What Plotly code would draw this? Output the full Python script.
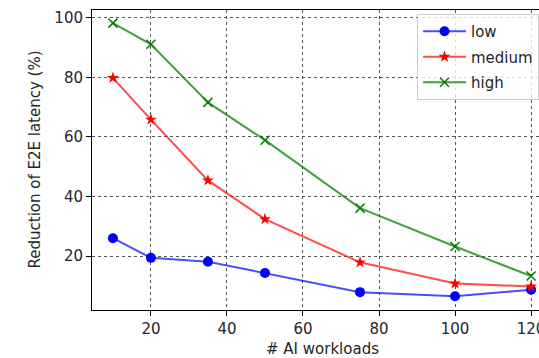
import plotly.graph_objects as go

workloads = [10, 20, 35, 50, 75, 100, 120]
low = [26.0, 19.4, 18.1, 14.3, 7.9, 6.5, 8.7]
medium = [79.8, 65.8, 45.4, 32.4, 17.9, 10.8, 9.8]
high = [98.2, 91.1, 71.6, 58.9, 36.1, 23.2, 13.3]
x_ticks = [20, 40, 60, 80, 100, 120]
y_ticks = [20, 40, 60, 80, 100]

FONT = "DejaVu Sans"
W, H = 560, 358
ML, MT, MB, MR = 92, 10, 48, 8
PW, PH = W - ML - MR, H - MT - MB

fig = go.Figure()
fig.add_trace(go.Scatter(
    x=workloads, y=low, name="low", mode="lines+markers", legendgroup="a",
    line=dict(color="rgba(0,0,255,0.7)", width=2),
    marker=dict(symbol="circle", size=10, color="#0000ff"),
))
fig.add_trace(go.Scatter(
    x=workloads, y=medium, name="medium", mode="lines+markers", legendgroup="b",
    line=dict(color="rgba(255,0,0,0.7)", width=2),
    marker=dict(symbol="star", size=9, color="#ff0000"),
))
fig.add_trace(go.Scatter(
    x=workloads, y=high, name="high", mode="lines+markers", legendgroup="c",
    line=dict(color="rgba(0,128,0,0.75)", width=2),
    marker=dict(symbol="x-thin", size=9, color="#008000",
                line=dict(color="#008000", width=1.5)),
))

axis_common = dict(
    showline=True, linecolor="black", linewidth=1, mirror=True,
    ticks="outside", ticklen=5, tickcolor="black", tickwidth=1,
    showgrid=True, gridcolor="#555555", gridwidth=1, griddash="dot",
    zeroline=False, automargin=False,
    tickfont=dict(family=FONT, size=15, color="#262626"),
)

fig.update_xaxes(range=[4.5, 125.5], tickvals=x_ticks, **axis_common)
fig.update_yaxes(range=[1.9, 102.6], tickvals=y_ticks, **axis_common)

fig.update_layout(
    width=W, height=H,
    margin=dict(l=ML, r=MR, t=MT, b=MB, pad=0, autoexpand=False),
    plot_bgcolor="white", paper_bgcolor="white",
    font=dict(family=FONT, size=15, color="#262626"),
    showlegend=True,
    legend=dict(
        x=(417 - ML) / PW, y=(PH - 4) / PH,
        xanchor="left", yanchor="top",
        bgcolor="rgba(255,255,255,0.8)", bordercolor="#cccccc", borderwidth=1,
        font=dict(family=FONT, size=15, color="#262626"),
        tracegroupgap=3, itemwidth=43,
    ),
    annotations=[
        dict(text="# AI workloads", xref="paper", yref="paper",
             x=0.5, y=(PH - 349 + MT) / PH,
             xanchor="center", yanchor="middle", showarrow=False,
             font=dict(family=FONT, size=15, color="#262626")),
        dict(text="Reduction of E2E latency (%)", xref="paper", yref="paper",
             x=(34.5 - ML) / PW, y=0.5, textangle=-90,
             xanchor="center", yanchor="middle", showarrow=False,
             font=dict(family=FONT, size=15, color="#262626")),
    ],
)

fig.write_html(
    "out.html",
    config={"displayModeBar": False},
    post_script="document.body.style.margin='0';document.body.style.overflow='hidden';",
)
